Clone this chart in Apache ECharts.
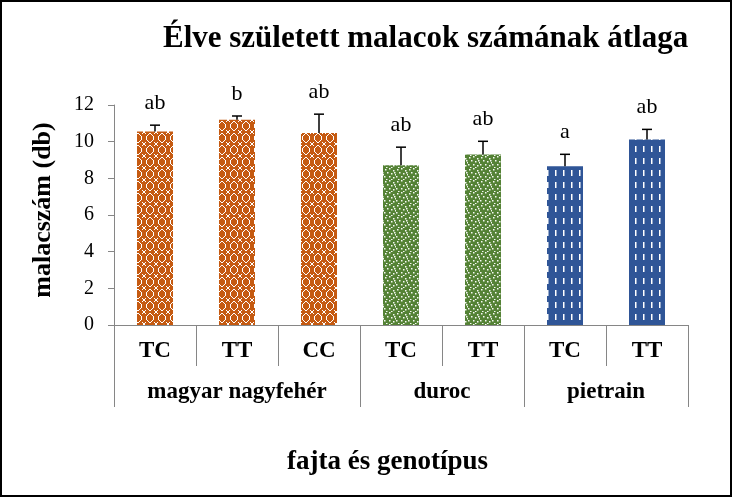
<!DOCTYPE html>
<html>
<head>
<meta charset="utf-8">
<script src="https://cdn.jsdelivr.net/npm/echarts@6/dist/echarts.min.js"></script>
<style>
html,body{margin:0;padding:0;background:#fff;}
#chart{width:732px;height:497px;}
</style>
</head>
<body>
<div id="chart"></div>
<script>
// ---- data ----
var genotypes = ['TC', 'TT', 'CC', 'TC', 'TT', 'TC', 'TT'];
var breeds = ['magyar nagyfehér', 'duroc', 'pietrain'];
var breedCounts = [3, 2, 2];
var means = [10.55, 11.2, 10.47, 8.72, 9.3, 8.66, 10.12];
var errors = [0.35, 0.2, 1.03, 0.98, 0.72, 0.65, 0.55];
var letters = ['ab', 'b', 'ab', 'ab', 'ab', 'a', 'ab'];
var breedOfBar = [0, 0, 0, 1, 1, 2, 2];
var yTicks = [0, 2, 4, 6, 8, 10, 12];

var FONT = '"Liberation Serif", "Times New Roman", serif';

// ---- patterns ----
function makeCanvas(w, h, bg) {
  var c = document.createElement('canvas');
  c.width = w; c.height = h;
  var ctx = c.getContext('2d');
  ctx.fillStyle = bg; ctx.fillRect(0, 0, w, h);
  return { c: c, ctx: ctx };
}
function orangePattern() {
  var p = makeCanvas(12, 12, '#C55A11');
  var ctx = p.ctx;
  ctx.fillStyle = '#ffffff';
  var pts = [[5,1],[6,1],[4,2],[7,2],[3,3],[8,3],[2,4],[9,4],[2,5],[9,5],[2,6],[9,6],[2,7],[9,7],[3,8],[8,8],[4,9],[7,9],[5,10],[6,10],
             [0,0],[11,0],[0,11],[11,11],[1,1],[10,1],[1,10],[10,10]];
  pts.forEach(function (q) { ctx.fillRect(q[0], q[1], 1, 1); });
  return p.c;
}
function greenPattern() {
  var p = makeCanvas(12, 12, '#548235');
  var ctx = p.ctx;
  ctx.fillStyle = 'rgba(255,255,255,0.95)';
  var pts = [[1,1],[5,0],[9,2],[3,4],[7,5],[11,6],[0,8],[5,8],[9,9],[2,11],[7,11],[10,4]];
  pts.forEach(function (q) { ctx.fillRect(q[0], q[1], 1.5, 1.5); });
  return p.c;
}
function bluePattern() {
  var p = makeCanvas(8, 12, '#2F5597');
  var ctx = p.ctx;
  ctx.fillStyle = '#ffffff';
  ctx.fillRect(3, 2, 1.5, 6);
  return p.c;
}
var patterns = [
  { image: orangePattern(), repeat: 'repeat' },
  { image: greenPattern(), repeat: 'repeat' },
  { image: bluePattern(), repeat: 'repeat' }
];

// group boundaries and centers from counts
var groupBounds = [0];
var groupCenters = [];
breedCounts.forEach(function (n, i) {
  var s = groupBounds[groupBounds.length - 1];
  groupCenters.push(s + n / 2);
  groupBounds.push(s + n);
});

var barData = means.map(function (v, i) {
  return { value: v, itemStyle: { color: patterns[breedOfBar[i]] } };
});
var errData = means.map(function (v, i) { return [i, v, v + errors[i]]; });

var chart = echarts.init(document.getElementById('chart'), null, { renderer: 'canvas' });
var axisGray = '#868686';

chart.setOption({
  animation: false,
  backgroundColor: '#ffffff',
  title: [{
    text: 'Élve született malacok számának átlaga',
    left: 158, top: 18,
    textStyle: { fontFamily: FONT, fontWeight: 'bold', fontSize: 31, color: '#000' }
  }, {
    text: 'fajta és genotípus',
    left: 282, top: 444,
    textStyle: { fontFamily: FONT, fontWeight: 'bold', fontSize: 27, color: '#000' }
  }],
  grid: { left: 114, right: 44, top: 105, bottom: 172, containLabel: false },
  xAxis: [{
    type: 'category',
    data: genotypes,
    boundaryGap: true,
    axisLine: { show: true, lineStyle: { color: axisGray, width: 1 } },
    axisTick: { show: true, interval: 0, alignWithLabel: false, length: 41, lineStyle: { color: axisGray } },
    axisLabel: { interval: 0, margin: 15, fontFamily: FONT, fontWeight: 'bold', fontSize: 23, color: '#000' },
    splitLine: { show: false }
  }, {
    type: 'value',
    min: 0, max: genotypes.length,
    position: 'bottom',
    axisLine: { show: false },
    axisTick: { show: true, customValues: groupBounds, length: 82, lineStyle: { color: axisGray } },
    axisLabel: {
      customValues: groupCenters,
      margin: 56,
      fontFamily: FONT, fontWeight: 'bold', fontSize: 23, color: '#000',
      formatter: function (v) {
        var idx = groupCenters.indexOf(v);
        return idx >= 0 ? breeds[idx] : '';
      }
    },
    splitLine: { show: false }
  }],
  yAxis: {
    type: 'value',
    min: 0, max: 12, interval: 2,
    name: 'malacszám (db)',
    nameLocation: 'middle',
    nameGap: 58,
    nameTextStyle: { fontFamily: FONT, fontWeight: 'bold', fontSize: 26, color: '#000', padding: [0, 0, 0, 10] },
    axisLine: { show: true, lineStyle: { color: axisGray } },
    axisTick: { show: true, length: 6, lineStyle: { color: axisGray } },
    axisLabel: {
      margin: 20, fontFamily: FONT, fontSize: 20, color: '#000',
      formatter: function (v) { return yTicks.indexOf(v) >= 0 ? String(v) : ''; }
    },
    splitLine: { show: false }
  },
  series: [{
    type: 'bar',
    xAxisIndex: 0,
    barWidth: 36,
    data: barData
  }, {
    type: 'custom',
    xAxisIndex: 0,
    data: errData,
    z: 10,
    renderItem: function (params, api) {
      var i = api.value(0);
      var base = api.coord([i, api.value(1)]);
      var top = api.coord([i, api.value(2)]);
      var x = base[0];
      var cap = 5;
      return {
        type: 'group',
        children: [{
          type: 'line',
          shape: { x1: x, y1: base[1], x2: x, y2: top[1] },
          style: { stroke: '#000', lineWidth: 1.5 }
        }, {
          type: 'line',
          shape: { x1: x - cap, y1: top[1], x2: x + cap, y2: top[1] },
          style: { stroke: '#000', lineWidth: 1.5 }
        }, {
          type: 'text',
          style: {
            text: letters[params.dataIndex],
            x: x, y: top[1] - 22,
            align: 'center', verticalAlign: 'middle',
            font: '22px ' + FONT, fill: '#000'
          }
        }]
      };
    }
  }],
  graphic: [{
    type: 'rect',
    shape: { x: 1, y: 1, width: 730, height: 495 },
    style: { fill: 'none', stroke: '#000', lineWidth: 2 },
    silent: true
  }]
});
</script>
</body>
</html>
